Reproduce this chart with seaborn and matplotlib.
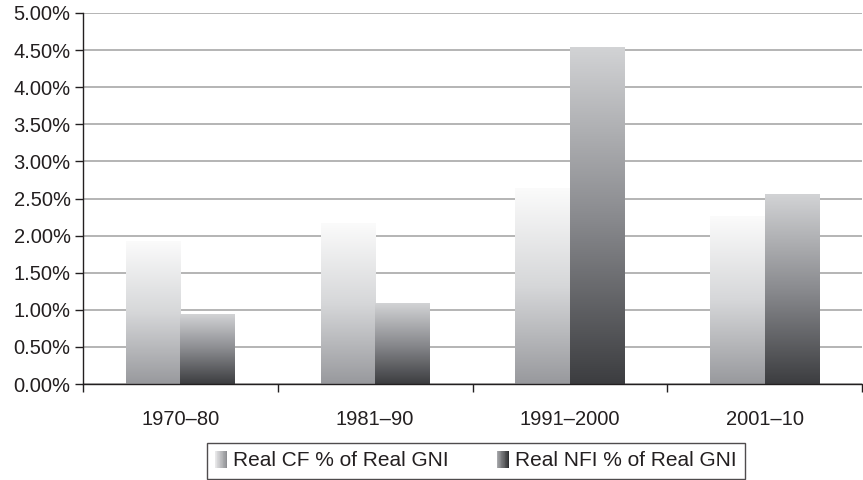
import numpy as np
import pandas as pd
import matplotlib
matplotlib.use("Agg")
import matplotlib.pyplot as plt
import seaborn as sns
from matplotlib.legend_handler import HandlerBase
from matplotlib.patches import Rectangle
from matplotlib.colors import LinearSegmentedColormap
from matplotlib.ticker import FixedLocator, PercentFormatter

categories = ["1970\u201380", "1981\u201390", "1991\u20132000", "2001\u201310"]
series_names = ["Real CF % of Real GNI", "Real NFI % of Real GNI"]
cf_values = [1.92, 2.16, 2.63, 2.26]
nfi_values = [0.93, 1.09, 4.53, 2.56]
y_ticks = [0.0, 0.5, 1.0, 1.5, 2.0, 2.5, 3.0, 3.5, 4.0, 4.5, 5.0]

df = pd.DataFrame({
    "period": categories * 2,
    "series": [series_names[0]] * 4 + [series_names[1]] * 4,
    "value": cf_values + nfi_values,
})

sns.set_theme(style="white")
plt.rcParams["font.family"] = ["Liberation Sans", "DejaVu Sans"]
text_color = "#231f20"
fs = 14.5

cmaps = {
    series_names[0]: LinearSegmentedColormap.from_list("cf", ["#fbfbfb", "#d6d7d9", "#98999d"]),
    series_names[1]: LinearSegmentedColormap.from_list("nfi", ["#d2d3d5", "#8a8b8f", "#3c3d40"]),
}

fig = plt.figure(figsize=(8.63, 4.8), dpi=100)
ax = fig.add_axes([83 / 863, 96 / 480, 779 / 863, 371 / 480])

sns.barplot(data=df, x="period", y="value", hue="series", order=categories,
            hue_order=series_names, palette=["#cccccc", "#666666"],
            width=0.56, gap=0, ax=ax, legend=False, errorbar=None, saturation=1)

grad = np.linspace(0, 1, 256).reshape(-1, 1)
bars = [p for p in ax.patches if isinstance(p, Rectangle)]
for i, p in enumerate(bars):
    name = series_names[0] if i < len(categories) else series_names[1]
    x, w, h = p.get_x(), p.get_width(), p.get_height()
    ax.imshow(grad, cmap=cmaps[name], extent=[x, x + w, 0, h], origin="upper",
              aspect="auto", zorder=2, interpolation="bilinear")
    p.set_facecolor("none")
    p.set_edgecolor("none")

ax.set_xlim(-0.5, len(categories) - 0.5)
ax.set_ylim(0, 5.0)
ax.set_yticks(y_ticks)
ax.yaxis.set_major_formatter(PercentFormatter(decimals=2))
ax.grid(axis="y", color="#a0a0a0", linewidth=1.1, zorder=1)
ax.set_axisbelow(True)

ax.xaxis.set_major_locator(FixedLocator([i - 0.5 for i in range(len(categories) + 1)]))
ax.xaxis.set_major_formatter(plt.NullFormatter())
ax.xaxis.set_minor_locator(FixedLocator(list(range(len(categories)))))
ax.set_xticklabels(categories, minor=True)
ax.tick_params(axis="x", which="major", length=6, width=1, color="#231f20", direction="out", bottom=True)
ax.tick_params(axis="x", which="minor", length=0, pad=19, labelsize=fs, labelcolor=text_color, bottom=True)
ax.tick_params(axis="y", length=6, width=1, color="#231f20", direction="out", left=True,
               labelsize=fs, labelcolor=text_color, pad=3)

for s in ["top", "right"]:
    ax.spines[s].set_visible(False)
for s in ["left", "bottom"]:
    ax.spines[s].set_color("#231f20")
    ax.spines[s].set_linewidth(1)
ax.set_xlabel("")
ax.set_ylabel("")


class GradHandler(HandlerBase):
    def __init__(self, cmap, frac=1.0):
        super().__init__()
        self.cmap = cmap
        self.frac = frac

    def create_artists(self, legend, orig_handle, xdescent, ydescent, width, height, fontsize, trans):
        n = 16
        arts = []
        w = width * self.frac
        x0 = -xdescent + width - w
        for k in range(n):
            c = self.cmap(k / (n - 1))
            r = Rectangle((x0 + w * k / n, -ydescent - height * 0.05), w / n + 0.2,
                          height * 1.1, facecolor=c, edgecolor="none", transform=trans)
            arts.append(r)
        return arts


h1 = Rectangle((0, 0), 1, 1)
h2 = Rectangle((0, 0), 1, 1)
legend_cmaps = [
    LinearSegmentedColormap.from_list("l1", ["#e8e8e9", "#8e8f93"]),
    LinearSegmentedColormap.from_list("l2", ["#a8a9ac", "#2e2f31"]),
]
leg = fig.legend([h1, h2], series_names, loc="center", bbox_to_anchor=(476 / 863, 1 - 461 / 480),
                 ncol=2, frameon=True, fancybox=False, edgecolor="#231f20", fontsize=15,
                 handler_map={h1: GradHandler(legend_cmaps[0]), h2: GradHandler(legend_cmaps[1])},
                 handlelength=0.58, handleheight=0.75, handletextpad=0.3, columnspacing=2.3,
                 borderpad=0.4, borderaxespad=0, labelcolor=text_color)
leg.get_frame().set_linewidth(1)

fig.savefig("out.png", dpi=100)
